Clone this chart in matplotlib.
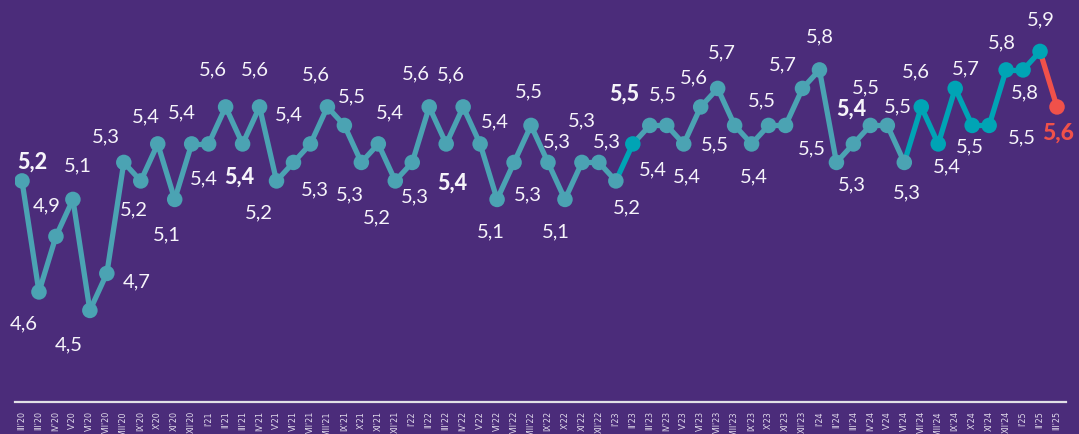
import numpy as np
import matplotlib
matplotlib.use('Agg')
import matplotlib.pyplot as plt
from matplotlib.collections import LineCollection

# meses (como aparecem no eixo) e valores
months = ["III'20", "III'20", "IV'20", "V'20", "VI'20", "VII'20", "VIII'20", "IX'20", "X'20", "XI'20", "XII'20",
          "I'21", "II'21", "III'21", "IV'21", "V'21", "VI'21", "VII'21", "VIII'21", "IX'21", "X'21", "XI'21", "XII'21",
          "I'22", "II'22", "III'22", "IV'22", "V'22", "VI'22", "VII'22", "VIII'22", "IX'22", "X'22", "XI'22", "XII'22",
          "I'23", "II'23", "III'23", "IV'23", "V'23", "VI'23", "VII'23", "VIII'23", "IX'23", "X'23", "XI'23", "XII'23",
          "I'24", "II'24", "III'24", "IV'24", "V'24", "VI'24", "VII'24", "VIII'24", "IX'24", "X'24", "XI'24", "XII'24",
          "I'25", "II'25", "III'25"]

values = [5.2, 4.6, 4.9, 5.1, 4.5, 4.7, 5.3, 5.2, 5.4, 5.1, 5.4,
          5.4, 5.6, 5.4, 5.6, 5.2, 5.3, 5.4, 5.6, 5.5, 5.3, 5.4, 5.2,
          5.3, 5.6, 5.4, 5.6, 5.4, 5.1, 5.3, 5.5, 5.3, 5.1, 5.3, 5.3,
          5.2, 5.4, 5.5, 5.5, 5.4, 5.6, 5.7, 5.5, 5.4, 5.5, 5.5, 5.7,
          5.8, 5.3, 5.4, 5.5, 5.5, 5.3, 5.6, 5.4, 5.7, 5.5, 5.5, 5.8,
          5.8, 5.9, 5.6]

# pontos em destaque
bold_idx = [0, 13, 25, 37, 49, 61]
dark_idx = [36] + list(range(53, 61))
red_idx = [61]

# deslocamento dos rotulos (pixels)
label_off = [(10, 19), (-15, -32), (-9, 31), (5, 34), (-21, -34), (30, -8), (-18, 26), (-7, -29),
             (-12, 27), (-8, -35), (-10, 31), (-5, -35), (-13, 37), (-3, -33), (-5, 37), (-18, -32),
             (21, -27), (-22, 29), (-12, 32), (8, 29), (-11, -32), (12, 31), (-18, -37), (3, -34),
             (-13, 33), (6, -39), (-12, 32), (15, 22), (-6, -32), (14, -32), (-2, 34), (9, 21),
             (-9, -32), (0, 42), (8, 21), (11, -27), (20, -26), (-26, 31), (-4, 31), (3, -33),
             (-7, 29), (4, 36), (-20, -19), (2, -33), (-7, 25), (26, -23), (-20, 24), (0, 33),
             (15, -22), (-2, 35), (-4, 38), (11, 19), (3, -30), (-5, 35), (9, -23), (11, 20),
             (-2, -21), (33, -12), (-4, 27), (2, -23), (1, 32), (1, -26)]

bg = '#4b2c7a'
teal = '#4ba3b3'
dark = '#00a4b5'
red = '#f0514a'
txt = '#f6f4fa'

x = np.arange(len(values))
y = np.array(values)

cols = [teal] * len(values)
for i in dark_idx:
    cols[i] = dark
for i in red_idx:
    cols[i] = red

fig = plt.figure(figsize=(10.79, 4.34), dpi=100, facecolor=bg)
ax = fig.add_axes([14.5 / 1079, 32 / 434, 1051.5 / 1079, 402 / 434])
ax.set_facecolor(bg)

pts = np.column_stack([x, y])
segs = np.stack([pts[:-1], pts[1:]], axis=1)
lc = LineCollection(segs, colors=cols[1:], linewidths=3.8, capstyle='round', joinstyle='round', zorder=2)
ax.add_collection(lc)
ax.scatter(x, y, s=125, c=cols, zorder=3, linewidths=0)

for i, v in enumerate(values):
    lab = f'{v:.1f}'.replace('.', ',')
    c = txt
    w = 'normal'
    fs = 14.5
    if i in bold_idx:
        w = 'black'
        fs = 15.5
    if i in red_idx:
        c = red
        fs = 16.5
    ax.annotate(lab, (x[i], y[i]), xytext=label_off[i], textcoords='offset pixels',
                ha='center', va='center', fontsize=fs, color=c, fontweight=w,
                family=['Lato', 'DejaVu Sans'], annotation_clip=False, clip_on=False)

ax.set_xlim(-0.442, 61.53)
ax.set_ylim(4.005, 6.178)
ax.set_xticks(x)
ax.set_xticklabels(months, rotation=90, fontsize=5.8, color='#e0daeb', va='top')
ax.tick_params(axis='x', length=0, pad=6.5)
ax.set_yticks([])
for s in ['top', 'left', 'right']:
    ax.spines[s].set_visible(False)
ax.spines['bottom'].set_color('#e2e0e6')
ax.spines['bottom'].set_linewidth(1.6)

fig.savefig('out.png', dpi=100, facecolor=bg)
